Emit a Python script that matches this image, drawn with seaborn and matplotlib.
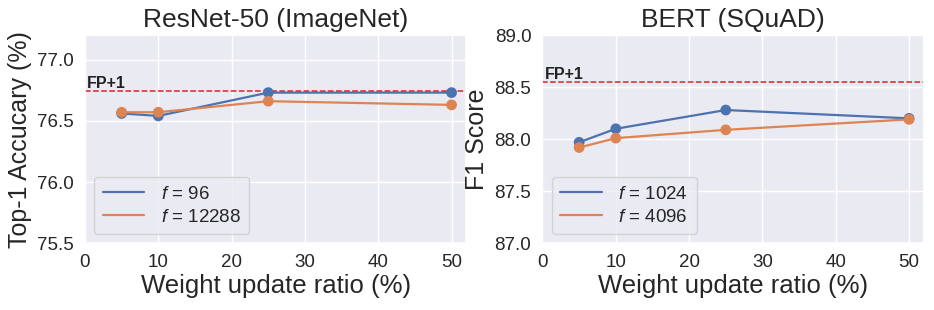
import seaborn as sns
import matplotlib.pyplot as plt
import pandas as pd

ratios = [5, 10, 25, 50]

# ResNet-50 (ImageNet)
resnet_f96 = [76.56, 76.54, 76.73, 76.73]
resnet_f12288 = [76.57, 76.57, 76.66, 76.63]
resnet_fp = 76.74

# BERT (SQuAD)
bert_f1024 = [87.97, 88.10, 88.28, 88.20]
bert_f4096 = [87.92, 88.01, 88.09, 88.19]
bert_fp = 88.55

sns.set_theme(style='darkgrid')
plt.rcParams['font.family'] = ['Arial', 'Liberation Sans', 'DejaVu Sans']
plt.rcParams['mathtext.fontset'] = 'custom'
plt.rcParams['mathtext.it'] = 'Liberation Sans:italic'

fig, axes = plt.subplots(1, 2, figsize=(9.34, 3.1), dpi=100)
fig.subplots_adjust(left=0.091, right=0.989, top=0.887, bottom=0.215, wspace=0.2)

panels = [
    (axes[0], 'ResNet-50 (ImageNet)', 'Top-1 Accucary (%)',
     [('$f$ = 96', resnet_f96), ('$f$ = 12288', resnet_f12288)],
     resnet_fp, (75.5, 77.2), [75.5, 76.0, 76.5, 77.0]),
    (axes[1], 'BERT (SQuAD)', 'F1 Score',
     [('$f$ = 1024', bert_f1024), ('$f$ = 4096', bert_f4096)],
     bert_fp, (87.0, 89.0), [87.0, 87.5, 88.0, 88.5, 89.0]),
]

palette = sns.color_palette()
for ax, title, ylabel, series, fp, ylim, yticks in panels:
    for i, (label, vals) in enumerate(series):
        df = pd.DataFrame({'ratio': ratios, 'value': vals})
        sns.lineplot(data=df, x='ratio', y='value', ax=ax, color=palette[i],
                     label=label, linewidth=1.6)
        sns.scatterplot(data=df, x='ratio', y='value', ax=ax, color=palette[i],
                        s=60, edgecolor='none', legend=False, zorder=3)
    ax.axhline(fp, color='#d62728', linestyle='--', linewidth=1.1)
    ax.text(0.3, fp, 'FP+1', fontsize=11.5, fontweight='bold',
            va='bottom', ha='left', color='#222222')
    ax.set_xlim(0, 52)
    ax.set_ylim(*ylim)
    ax.set_yticks(yticks)
    ax.set_xticks([0, 10, 20, 30, 40, 50])
    ax.set_title(title, fontsize=19)
    ax.set_xlabel('Weight update ratio (%)', fontsize=18.5, labelpad=2)
    ax.set_ylabel(ylabel, fontsize=18, labelpad=4)
    ax.tick_params(axis='both', labelsize=13.5, pad=2)
    ax.legend(loc='lower left', fontsize=13.5, handlelength=2.2,
              handletextpad=0.9, borderpad=0.45, labelspacing=0.3)

fig.savefig('out.png', dpi=100)
